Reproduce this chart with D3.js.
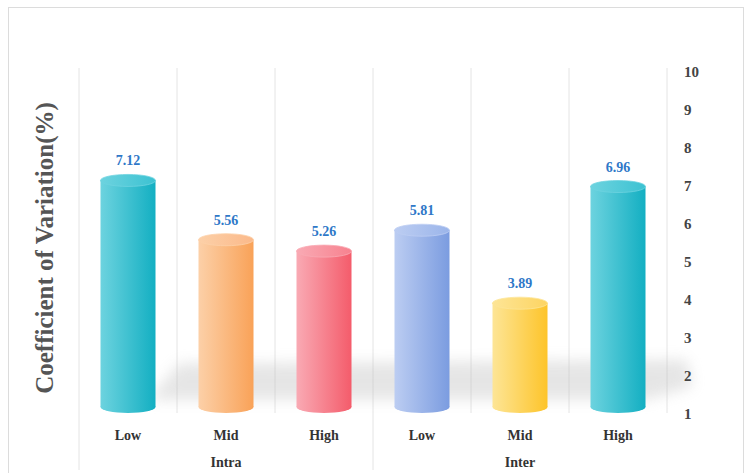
<!DOCTYPE html>
<html><head><meta charset="utf-8">
<script src="https://cdn.jsdelivr.net/npm/d3@7"></script>
<style>body{margin:0;background:#fff}svg{display:block}</style>
</head><body>
<svg id="c" width="752" height="473"></svg>
<script>
const categories = ["Low","Mid","High","Low","Mid","High"];
const groups = ["Intra","Intra","Intra","Inter","Inter","Inter"];
const groupNames = ["Intra","Inter"];
const values = [7.12,5.56,5.26,5.81,3.89,6.96];
const yTicks = [1,2,3,4,5,6,7,8,9,10];
const colorsDark = ["#13afc2","#f9a258","#f45c6b","#7b9ce0","#fdc42a","#13afc2"];
const colorsLight = ["#6dd3df","#fcd0a8","#f9aab4","#bccdf2","#fde596","#6dd3df"];
const colorsTop = ["#3cc2d2","#fbb98a","#f7828f","#9bb5ea","#fdd462","#3cc2d2"];

const svg = d3.select("#c");
const L=79,R=667,T=71,B=413;
const serif = "Liberation Serif, Times New Roman, DejaVu Serif, serif";

svg.append("rect").attr("x",8.5).attr("y",7.5).attr("width",735).attr("height",470).attr("fill","#fff").attr("stroke","#dcdcdc");

const x = d3.scaleBand().domain(d3.range(values.length)).range([L,R]).paddingInner(0).paddingOuter(0);
const y = d3.scaleLinear().domain([1,10]).range([B,T]);

const defs = svg.append("defs");
values.forEach((v,i)=>{
  const g = defs.append("linearGradient").attr("id","g"+i).attr("x1","0").attr("x2","1").attr("y1","0").attr("y2","0");
  g.append("stop").attr("offset","0").attr("stop-color",colorsLight[i]);
  g.append("stop").attr("offset","1").attr("stop-color",colorsDark[i]);
  const t = defs.append("linearGradient").attr("id","t"+i).attr("x1","0").attr("x2","1").attr("y1","0").attr("y2","0");
  t.append("stop").attr("offset","0").attr("stop-color",colorsLight[i]);
  t.append("stop").attr("offset","1").attr("stop-color",colorsTop[i]);
});
defs.append("filter").attr("id","blur").attr("x","-20%").attr("y","-50%").attr("width","140%").attr("height","200%")
  .append("feGaussianBlur").attr("stdDeviation",7);

// vertical grid lines
const bounds = d3.range(values.length+1).map(i=> i<values.length ? x(i) : x(values.length-1)+x.bandwidth());
svg.selectAll("line.grid").data(bounds).join("line")
  .attr("x1",d=>d).attr("x2",d=>d).attr("y1",68).attr("y2",(d,i)=> (i===0||i===3)?470:413)
  .attr("stroke","#e4e4e4").attr("stroke-width",1);

// floor shadow
svg.append("path")
  .attr("d",`M${L+70},${y(1.35)} L${L+100},${y(2.3)} L${R+20},${y(2.4)} L${R+25},${y(1.7)} L${R-20},${y(1.35)} Z`)
  .attr("fill","#bdbdbd").attr("opacity",0.38).attr("filter","url(#blur)");

const bw = 55, ry = 6;
const bars = svg.selectAll("g.bar").data(values).join("g").attr("class","bar");
bars.append("rect")
  .attr("x",(d,i)=>x(i)+x.bandwidth()/2-bw/2).attr("width",bw)
  .attr("y",d=>y(d)).attr("height",d=>y(1)-y(d)-ry)
  .attr("fill",(d,i)=>`url(#g${i})`);
bars.append("ellipse")
  .attr("cx",(d,i)=>x(i)+x.bandwidth()/2).attr("cy",d=>y(1)-ry).attr("rx",bw/2).attr("ry",ry)
  .attr("fill",(d,i)=>`url(#g${i})`);
bars.append("ellipse")
  .attr("cx",(d,i)=>x(i)+x.bandwidth()/2).attr("cy",d=>y(d)).attr("rx",bw/2).attr("ry",ry)
  .attr("fill",(d,i)=>`url(#t${i})`).attr("stroke",(d,i)=>colorsLight[i]).attr("stroke-width",0.8);
bars.append("text")
  .attr("x",(d,i)=>x(i)+x.bandwidth()/2).attr("y",d=>y(d)-15)
  .attr("text-anchor","middle").attr("font-family",serif).attr("font-weight","bold")
  .attr("font-size",14).attr("fill","#2f78c8").text(d=>d.toFixed(2));

// right axis
const ax = svg.append("g").attr("transform",`translate(${R+14},0)`)
  .call(d3.axisRight(y).tickValues(yTicks).tickSize(0).tickFormat(d3.format("d")));
ax.select(".domain").remove();
ax.selectAll("text").attr("font-family",serif).attr("font-weight","bold").attr("font-size",15).attr("fill","#444").attr("dy","0.35em");

// category labels
svg.selectAll("text.cat").data(categories).join("text").attr("class","cat")
  .attr("x",(d,i)=>x(i)+x.bandwidth()/2).attr("y",440).attr("text-anchor","middle")
  .attr("font-family",serif).attr("font-weight","bold").attr("font-size",14).attr("fill","#333").text(d=>d);
svg.selectAll("text.grp").data(groupNames).join("text").attr("class","grp")
  .attr("x",(d)=>{const idx=groups.map((g,i)=>g===d?i:-1).filter(i=>i>=0);return (x(idx[0])+x(idx[idx.length-1])+x.bandwidth())/2;})
  .attr("y",467).attr("text-anchor","middle")
  .attr("font-family",serif).attr("font-weight","bold").attr("font-size",14).attr("fill","#333").text(d=>d);

// y title
svg.append("text").attr("transform",`translate(53,${(T+B)/2+6}) rotate(-90)`).attr("text-anchor","middle")
  .attr("font-family",serif).attr("font-weight","bold").attr("font-size",25).attr("fill","#555")
  .text("Coefficient of Variation(%)");
</script>
</body></html>
